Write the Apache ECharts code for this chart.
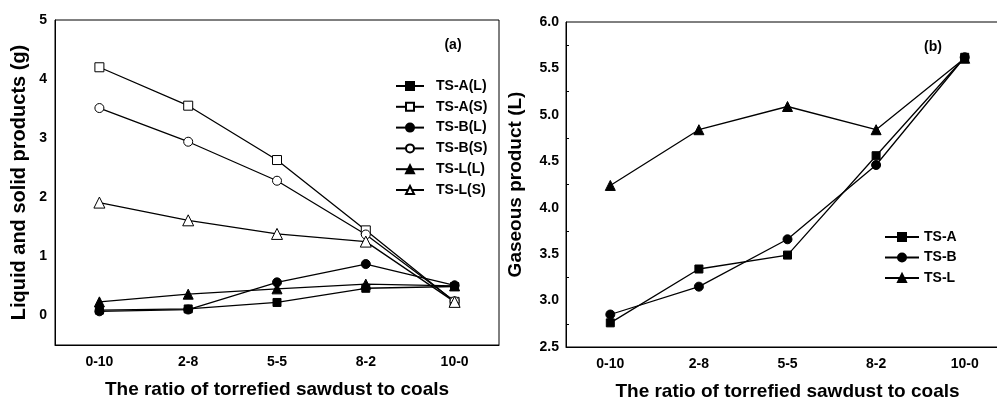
<!DOCTYPE html>
<html><head><meta charset="utf-8">
<script src="https://cdn.jsdelivr.net/npm/echarts@6/dist/echarts.min.js"></script>
<style>html,body{margin:0;padding:0;background:#fff}#c{width:997px;height:400px}</style>
</head><body><div id="c"></div>
<script>
var categories = ['0-10','2-8','5-5','8-2','10-0'];
// panel (a): liquid and solid products (g)
var tsAL = [0.09, 0.11, 0.22, 0.46, 0.49];
var tsAS = [4.20, 3.55, 2.63, 1.44, 0.23];
var tsBL = [0.07, 0.10, 0.56, 0.87, 0.51];
var tsBS = [3.51, 2.94, 2.28, 1.37, 0.24];
var tsLL = [0.23, 0.36, 0.45, 0.53, 0.50];
var tsLS = [1.91, 1.61, 1.38, 1.25, 0.23];
// panel (b): gaseous product (L)
var gasA = [2.76, 3.34, 3.49, 4.56, 5.62];
var gasB = [2.85, 3.15, 3.66, 4.46, 5.62];
var gasL = [4.24, 4.84, 5.09, 4.84, 5.61];
var yTicksA = [0, 1, 2, 3, 4, 5];

var FONT = 'Liberation Sans';
var black = '#000';
var chart = echarts.init(document.getElementById('c'));

function lineSeries(name, data, symbol, filled, xi, yi, size) {
  return {
    name: name, type: 'line', data: data, xAxisIndex: xi, yAxisIndex: yi,
    symbol: symbol, symbolSize: size, showAllSymbol: true,
    lineStyle: {color: black, width: 1.3},
    itemStyle: {color: filled ? black : '#fff', borderColor: black, borderWidth: 1},
    emphasis: {disabled: true}, animation: false, z: filled ? 3 : 2
  };
}

var labelStyle = {color: black, fontFamily: FONT, fontWeight: 'bold', fontSize: 14};
var nameStyle = {color: black, fontFamily: FONT, fontWeight: 'bold', fontSize: 19};

function catAxes(gi) {
  return [
    {type: 'category', data: categories, gridIndex: gi, boundaryGap: true,
     axisLine: {onZero: false, lineStyle: {color: black, width: 1}},
     axisTick: {inside: true, alignWithLabel: true, length: 5, lineStyle: {color: black}},
     axisLabel: Object.assign({margin: 10}, labelStyle),
     name: 'The ratio of torrefied sawdust to coals', nameLocation: 'middle', nameGap: 35,
     nameTextStyle: nameStyle, splitLine: {show: false}},
    {type: 'category', data: categories, gridIndex: gi, boundaryGap: true, position: 'bottom',
     axisLine: {show: false, onZero: false},
     axisTick: {inside: true, length: 3, lineStyle: {color: black}},
     axisLabel: {show: false}, splitLine: {show: false}}
  ];
}

var option = {
  backgroundColor: '#fff',
  animation: false,
  grid: [
    {left: 55, top: 20, width: 444, height: 325, show: true, borderColor: black, borderWidth: 1,
     backgroundColor: 'transparent', containLabel: false, outerBoundsMode: 'none'},
    {left: 566, top: 22, width: 443, height: 325, show: true, borderColor: black, borderWidth: 1,
     backgroundColor: 'transparent', containLabel: false, outerBoundsMode: 'none'}
  ],
  xAxis: catAxes(0).concat(catAxes(1)),
  yAxis: [
    {type: 'value', gridIndex: 0, min: -0.5, max: 5, interval: 0.5,
     axisLine: {show: true, lineStyle: {color: black}},
     axisTick: {inside: true, length: 3, lineStyle: {color: black}},
     axisLabel: Object.assign({margin: 8, formatter: function (v) { return Math.abs(v - Math.round(v)) < 1e-6 ? String(Math.round(v)) : ''; }}, labelStyle),
     splitLine: {show: false},
     name: 'Liquid and solid products (g)', nameLocation: 'middle', nameGap: 26,
     nameTextStyle: Object.assign({}, nameStyle, {fontSize: 20})},
    {type: 'value', gridIndex: 0, min: -0.5, max: 5,
     axisLine: {show: false},
     axisTick: {inside: true, length: 5, customValues: yTicksA, lineStyle: {color: black}},
     axisLabel: {show: false}, splitLine: {show: false}},
    {type: 'value', gridIndex: 1, min: 2.5, max: 6, interval: 0.5,
     axisLine: {show: true, lineStyle: {color: black}},
     axisTick: {inside: true, length: 5, lineStyle: {color: black}},
     minorTick: {show: true, splitNumber: 2, length: 3, lineStyle: {color: black}},
     axisLabel: Object.assign({margin: 7, formatter: function (v) { return v.toFixed(1); }}, labelStyle),
     splitLine: {show: false}, minorSplitLine: {show: false},
     name: 'Gaseous product (L)', nameLocation: 'middle', nameGap: 41, nameTextStyle: nameStyle}
  ],
  legend: [
    {orient: 'vertical', left: 390, top: 74, itemWidth: 28, itemHeight: 10, itemGap: 6.8,
     textStyle: {color: black, fontFamily: FONT, fontWeight: 'bold', fontSize: 14, padding: [0, 0, 0, 7]},
     data: ['TS-A(L)','TS-A(S)','TS-B(L)','TS-B(S)','TS-L(L)','TS-L(S)']},
    {orient: 'vertical', left: 879, top: 225, itemWidth: 34, itemHeight: 10, itemGap: 6.5,
     textStyle: {color: black, fontFamily: FONT, fontWeight: 'bold', fontSize: 14},
     data: ['TS-A','TS-B','TS-L']}
  ],
  graphic: [
    {type: 'text', x: 453, y: 45, style: {text: '(a)', fill: black, font: 'bold 14px "Liberation Sans"', textAlign: 'center', textVerticalAlign: 'middle'}},
    {type: 'text', x: 933, y: 47, style: {text: '(b)', fill: black, font: 'bold 14px "Liberation Sans"', textAlign: 'center', textVerticalAlign: 'middle'}}
  ],
  series: [
    lineSeries('TS-A(L)', tsAL, 'rect', true, 0, 0, 8),
    lineSeries('TS-A(S)', tsAS, 'rect', false, 0, 0, 9),
    lineSeries('TS-B(L)', tsBL, 'circle', true, 0, 0, 9),
    lineSeries('TS-B(S)', tsBS, 'circle', false, 0, 0, 9),
    lineSeries('TS-L(L)', tsLL, 'triangle', true, 0, 0, 10),
    lineSeries('TS-L(S)', tsLS, 'triangle', false, 0, 0, 11),
    lineSeries('TS-A', gasA, 'rect', true, 2, 2, 8),
    lineSeries('TS-B', gasB, 'circle', true, 2, 2, 9),
    lineSeries('TS-L', gasL, 'triangle', true, 2, 2, 10)
  ]
};
chart.setOption(option);
</script></body></html>
